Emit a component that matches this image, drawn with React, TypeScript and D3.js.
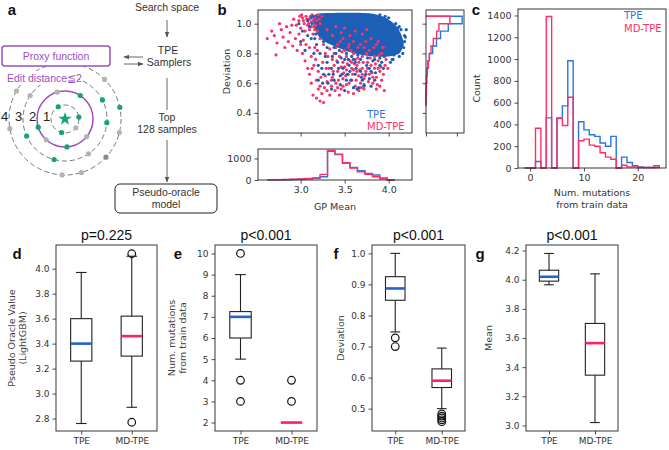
import React, { useEffect, useRef } from 'react';
import * as d3 from 'd3';

const W = 669;
const H = 450;

const BLUE_PT = '#1b5fb6';
const PINK_PT = '#f7336a';
const BLUE_LN = '#2a76d4';
const PINK_LN = '#ff2e68';
const BLUE_MED = '#1f66c6';
const PINK_MED = '#ff2160';
const PURPLE = '#9b4fc2';
const GREEN = '#16a374';
const GREY_DOT = '#b3b3b3';

const MPL_FONT = "'DejaVu Sans', sans-serif";
const ARIAL = "'Liberation Sans', Arial, sans-serif";

// ---------- a: search diagram ----------
const ringRadii = [14, 28, 42, 56];
const ringLabels = ['1', '2', '3', '4'];
// [ring, angle in degrees, kind]  g = green (hit), s = grey, d = dark grey
const ringDots: [number, number, string][] = [
  [1, -119, 'g'], [1, -8, 'g'], [1, 104, 'g'], [1, 39, 's'],
  [2, -106, 's'], [2, -57, 'g'], [2, 163, 'g'], [2, 86, 'g'], [2, 39, 's'], [2, 132, 's'],
  [3, -146, 's'], [3, -27, 'g'], [3, 5, 'g'], [3, 156, 'g'], [3, 105, 'g'], [3, 56, 's'],
  [4, -45, 's'], [4, -12, 'g'], [4, 14, 's'], [4, 43, 'd'], [4, 73, 's'], [4, 93, 's'], [4, 170, 's'], [4, -150, 's'],
];

// ---------- b: GP mean vs deviation ----------
// outline of the saturated TPE cloud
const tpeCore = [
  [3.14, 1.04], [3.18, 1.065], [3.30, 1.072], [3.55, 1.074], [3.78, 1.07], [3.95, 1.045],
  [4.07, 0.995], [4.14, 0.93], [4.17, 0.86], [4.12, 0.80], [4.00, 0.78], [3.85, 0.78],
  [3.70, 0.79], [3.55, 0.81], [3.42, 0.84], [3.30, 0.87], [3.21, 0.91], [3.16, 0.97],
];
const tpePoints = [
  [3.20, 0.62], [3.25, 0.60], [3.32, 0.66], [3.38, 0.62], [3.45, 0.65], [3.52, 0.62], [3.60, 0.57],
  [3.66, 0.57], [3.72, 0.59], [3.78, 0.63], [3.85, 0.67], [3.90, 0.72], [3.95, 0.78], [4.00, 0.80],
  [4.05, 0.76], [4.10, 0.82], [3.30, 0.74], [3.35, 0.70], [3.42, 0.74], [3.48, 0.70], [3.55, 0.72],
  [3.62, 0.66], [3.68, 0.68], [3.75, 0.72], [3.82, 0.75], [3.28, 0.78], [3.22, 0.80], [3.18, 0.86],
  [3.12, 0.90], [3.08, 0.92], [3.02, 0.95], [2.98, 1.00], [3.00, 0.88], [3.05, 0.82], [3.15, 0.80],
  [3.40, 0.80], [3.50, 0.76], [3.58, 0.78], [3.65, 0.79], [3.88, 0.83], [3.98, 0.86], [4.18, 0.92],
  [4.20, 0.96], [4.12, 0.98], [4.15, 0.86], [3.24, 0.70], [3.35, 0.56], [3.45, 0.59], [3.56, 0.68],
  [3.70, 0.62], [3.10, 0.98], [3.14, 1.05], [3.08, 1.02], [4.18, 0.88], [4.08, 1.00], [3.96, 1.05],
  [4.17, 0.84], [3.62, 0.74], [3.78, 0.70], [3.44, 0.82], [3.52, 0.80], [3.86, 0.80],
  [3.26, 0.66], [3.31, 0.60], [3.37, 0.66], [3.43, 0.70], [3.47, 0.66], [3.53, 0.66], [3.57, 0.62],
  [3.63, 0.70], [3.69, 0.64], [3.74, 0.66], [3.80, 0.68], [3.84, 0.62], [3.92, 0.74], [3.94, 0.70],
  [4.02, 0.74], [4.06, 0.79], [3.36, 0.78], [3.46, 0.77], [3.54, 0.76], [3.60, 0.76], [3.68, 0.76],
  [3.76, 0.77], [3.84, 0.76], [3.90, 0.77], [3.20, 0.72], [3.16, 0.90], [3.30, 0.84], [3.38, 0.84],
  [3.26, 0.88], [3.72, 0.58], [3.80, 0.58], [3.64, 0.56], [3.50, 0.55], [3.12, 1.04], [3.13, 1.00],
  [3.17, 0.93], [4.14, 0.96], [4.19, 0.91], [4.16, 0.80], [4.12, 0.78], [4.04, 0.76], [4.00, 1.04],
  [3.90, 1.06], [4.10, 0.97],
];
const mdPoints = [
  [3.02, 1.04], [3.06, 1.05], [3.10, 1.03], [3.13, 1.06], [2.98, 1.02], [3.04, 1.00], [3.08, 0.99],
  [3.12, 1.01], [3.16, 1.04], [3.00, 0.97], [2.95, 0.99], [3.10, 0.96], [3.15, 0.98], [3.18, 1.02],
  [3.05, 0.95], [2.92, 1.03], [3.20, 1.06], [3.22, 1.00], [3.14, 0.93], [3.19, 0.95],
  [3.01, 1.06], [3.07, 1.03], [3.11, 1.05], [3.14, 1.02], [3.17, 0.99], [3.09, 1.00], [3.03, 1.02],
  [2.99, 1.05], [3.12, 0.98], [3.16, 0.96], [3.21, 1.03], [3.24, 1.05],
  [2.62, 0.90], [2.70, 0.92], [2.73, 0.87], [2.78, 0.96], [2.80, 0.91], [2.84, 0.98], [2.86, 0.88],
  [2.88, 0.94], [2.91, 0.85], [2.94, 0.90], [2.96, 0.82], [2.98, 0.93], [3.00, 0.86], [2.82, 0.84],
  [2.72, 0.79], [2.90, 0.99], [2.76, 1.00], [2.67, 0.95], [3.03, 0.89], [3.02, 0.80],
  [3.05, 0.75], [3.08, 0.70], [3.10, 0.66], [3.12, 0.78], [3.15, 0.72], [3.18, 0.62], [3.20, 0.68],
  [3.22, 0.58], [3.25, 0.74], [3.28, 0.65], [3.30, 0.55], [3.14, 0.52], [3.18, 0.50], [3.22, 0.48],
  [3.26, 0.47], [3.24, 0.53], [3.30, 0.61], [3.32, 0.70], [3.12, 0.60], [3.28, 0.80], [3.16, 0.84],
  [3.26, 0.86], [3.22, 0.90], [3.35, 0.58], [3.33, 0.52], [3.06, 0.86], [3.10, 0.84], [3.13, 0.70],
  [3.17, 0.76], [3.20, 0.56], [3.23, 0.64], [3.27, 0.57], [3.29, 0.70], [3.31, 0.78], [3.19, 0.82],
  [3.36, 0.64], [3.38, 0.72], [3.40, 0.60], [3.42, 0.68], [3.44, 0.78], [3.46, 0.56], [3.48, 0.63],
  [3.50, 0.71], [3.52, 0.59], [3.54, 0.66], [3.56, 0.75], [3.58, 0.62], [3.60, 0.69], [3.62, 0.58],
  [3.64, 0.72], [3.66, 0.65], [3.68, 0.60], [3.70, 0.70], [3.72, 0.63], [3.40, 0.84], [3.45, 0.88],
  [3.50, 0.82], [3.55, 0.86], [3.60, 0.80], [3.65, 0.84], [3.70, 0.78], [3.38, 0.80], [3.48, 0.74],
  [3.58, 0.70], [3.62, 0.76], [3.52, 0.78], [3.42, 0.57], [3.36, 0.76], [3.66, 0.74], [3.74, 0.68],
  [3.76, 0.74], [3.78, 0.66], [3.80, 0.72], [3.82, 0.60], [3.84, 0.70], [3.86, 0.64], [3.88, 0.75],
  [3.90, 0.68], [3.92, 0.62], [3.95, 0.55], [3.78, 0.82], [3.84, 0.78], [3.92, 0.80], [3.96, 0.72],
  [3.74, 0.88], [3.80, 0.90], [3.56, 0.92], [3.46, 0.94], [3.36, 0.92], [3.30, 0.96], [3.40, 0.98],
  [3.62, 0.95], [3.70, 0.93], [3.88, 0.88], [3.50, 0.97], [3.75, 0.96],
  [3.33, 0.83], [3.37, 0.68], [3.41, 0.75], [3.43, 0.62], [3.47, 0.81], [3.49, 0.67], [3.51, 0.65],
  [3.53, 0.73], [3.55, 0.60], [3.57, 0.82], [3.59, 0.66], [3.61, 0.73], [3.63, 0.62], [3.65, 0.77],
  [3.67, 0.69], [3.69, 0.57], [3.71, 0.74], [3.73, 0.65], [3.75, 0.80], [3.77, 0.61], [3.79, 0.77],
  [3.81, 0.67], [3.83, 0.84], [3.85, 0.73], [3.87, 0.59], [3.89, 0.79], [3.91, 0.71], [3.93, 0.84],
  [3.94, 0.66], [3.97, 0.76], [3.99, 0.70], [3.35, 0.62], [3.39, 0.55], [3.44, 0.52], [3.48, 0.58],
  [3.54, 0.54], [3.60, 0.53], [3.66, 0.55], [3.72, 0.56], [3.86, 0.56], [3.90, 0.58], [3.46, 0.71],
  [3.52, 0.69], [3.58, 0.74], [3.64, 0.68], [3.70, 0.66], [3.76, 0.70], [3.82, 0.64], [3.88, 0.70],
  [3.42, 0.86], [3.48, 0.90], [3.54, 0.84], [3.60, 0.88], [3.68, 0.86], [3.72, 0.84], [3.86, 0.86],
  [3.94, 0.84],
];

// GP mean histogram (bin lower edges, last value closes the final bin)
const gpEdges = [2.625, 2.71, 2.795, 2.88, 2.965, 3.05, 3.135, 3.22, 3.305, 3.39, 3.475, 3.56, 3.645, 3.73, 3.815, 3.90, 3.985, 4.07];
const gpTPE = [5, 10, 15, 25, 35, 50, 80, 150, 1330, 1180, 780, 580, 430, 300, 230, 100, 0];
const gpMD = [8, 15, 20, 35, 45, 70, 100, 260, 1370, 1200, 800, 560, 380, 270, 150, 60, 0];

// Deviation histogram (sideways)
const devEdges = [0.45, 0.5, 0.55, 0.6, 0.65, 0.7, 0.75, 0.8, 0.85, 0.9, 0.95, 1.0, 1.05];
const devTPE = [0, 3, 8, 15, 30, 60, 110, 215, 340, 470, 720, 1170];
const devMD = [3, 5, 15, 25, 40, 75, 108, 161, 237, 344, 419, 774];

// ---------- c: mutations from train data ----------
const mutEdges = [-1, 0, 1, 2, 3, 4, 5, 6, 7, 8, 9, 10, 11, 12, 13, 14, 15, 16, 17, 18, 19, 20, 21, 22, 23, 24];
const mutTPE = [0, 0, 60, 0, 460, 0, 460, 570, 985, 0, 425, 350, 305, 290, 230, 200, 290, 0, 100, 50, 20, 10, 5, 5, 5];
const mutMD = [0, 0, 365, 0, 1390, 0, 455, 390, 650, 0, 250, 265, 210, 200, 140, 100, 80, 0, 25, 10, 10, 5, 5, 5, 20];

// ---------- d-g: box plots [whislo, q1, median, q3, whishi] ----------
const groups = ['TPE', 'MD-TPE'];
const oracleStats = [[2.76, 3.26, 3.40, 3.60, 3.97], [2.89, 3.30, 3.46, 3.62, 4.10]];
const oracleFliers = [[], [4.12, 2.77]];
const mutBoxStats = [[5, 6, 7, 7.25, 9], [2, 2, 2, 2, 2]];
const mutBoxFliers = [[10, 4, 3], [4, 3]];
const devBoxStats = [[0.747, 0.849, 0.887, 0.925, 1.0], [0.50, 0.568, 0.59, 0.628, 0.695]];
const devBoxFliers = [[0.728, 0.70], [0.483, 0.476, 0.47, 0.464, 0.458]];
const meanBoxStats = [[3.965, 3.99, 4.02, 4.065, 4.18], [3.02, 3.345, 3.565, 3.70, 4.04]];
const meanBoxFliers = [[], []];

function styleAxis(sel: any, size = 9.5) {
  sel.select('.domain').remove();
  sel.selectAll('.tick line').attr('stroke', '#222').attr('stroke-width', 0.8);
  sel.selectAll('.tick text')
    .attr('fill', '#333')
    .style('font-size', `${size}px`)
    .style('font-family', MPL_FONT);
}

function frame(g: any, x0: number, y0: number, x1: number, y1: number) {
  g.append('rect')
    .attr('x', x0).attr('y', y0)
    .attr('width', x1 - x0).attr('height', y1 - y0)
    .attr('fill', 'none').attr('stroke', '#222').attr('stroke-width', 0.9);
}

// outline of a step histogram, bins along x
function stepPoints(edges: number[], counts: number[]) {
  const pts: [number, number][] = [[edges[0], 0]];
  counts.forEach((c, i) => {
    pts.push([edges[i], c]);
    pts.push([edges[i + 1], c]);
  });
  pts.push([edges[edges.length - 1], 0]);
  return pts;
}

function label(g: any, x: number, y: number, text: string, opts: any = {}) {
  return g.append('text')
    .attr('x', x).attr('y', y)
    .attr('text-anchor', opts.anchor || 'middle')
    .attr('fill', opts.fill || '#222')
    .attr('font-weight', opts.weight || 'normal')
    .style('font-size', `${opts.size || 10}px`)
    .style('font-family', opts.family || ARIAL)
    .text(text);
}

function drawDiagram(svg: any) {
  const g = svg.append('g');
  const cx = 65;
  const cy = 119;

  const defs = svg.append('defs');
  defs.append('marker')
    .attr('id', 'head')
    .attr('viewBox', '0 0 10 10')
    .attr('refX', 9).attr('refY', 5)
    .attr('markerWidth', 6).attr('markerHeight', 6)
    .attr('orient', 'auto-start-reverse')
    .append('path').attr('d', 'M0,1 L10,5 L0,9 z').attr('fill', '#555');

  const arrow = (x1: number, y1: number, x2: number, y2: number) =>
    g.append('line')
      .attr('x1', x1).attr('y1', y1).attr('x2', x2).attr('y2', y2)
      .attr('stroke', '#666').attr('stroke-width', 1)
      .attr('marker-end', 'url(#head)');

  // rings around the starting sequence
  ringRadii.forEach((r, i) => {
    const solid = i === 1;
    g.append('circle')
      .attr('cx', cx).attr('cy', cy).attr('r', r)
      .attr('fill', 'none')
      .attr('stroke', solid ? PURPLE : '#777')
      .attr('stroke-width', solid ? 1.5 : 1)
      .attr('stroke-dasharray', solid ? null : '5,3');
  });

  g.selectAll('circle.dot')
    .data(ringDots)
    .enter()
    .append('circle')
    .attr('class', 'dot')
    .attr('cx', (d: any) => cx + ringRadii[d[0] - 1] * Math.cos((d[1] * Math.PI) / 180))
    .attr('cy', (d: any) => cy + ringRadii[d[0] - 1] * Math.sin((d[1] * Math.PI) / 180))
    .attr('r', 2.6)
    .attr('fill', (d: any) => (d[2] === 'g' ? GREEN : d[2] === 'd' ? '#8a8a8a' : GREY_DOT));

  g.append('path')
    .attr('transform', `translate(${cx},${cy})`)
    .attr('d', d3.symbol().type(d3.symbolStar).size(55)())
    .attr('fill', GREEN);

  ringRadii.forEach((r, i) => {
    label(g, cx - r - 4.5, cy + 2, ringLabels[i], { size: 13, fill: '#222' });
  });

  // edit distance caption sits over the outer rings
  g.append('rect').attr('x', 5).attr('y', 71).attr('width', 74).attr('height', 14).attr('fill', '#fff');
  label(g, 7, 82, 'Edit distance≦2', { anchor: 'start', size: 10.5, fill: PURPLE });

  g.append('rect')
    .attr('x', 2).attr('y', 46).attr('width', 108).attr('height', 20).attr('rx', 3)
    .attr('fill', '#fff').attr('stroke', PURPLE).attr('stroke-width', 1.5);
  label(g, 56, 60, 'Proxy function', { size: 10.5, fill: PURPLE });

  label(g, 167, 11, 'Search space', { size: 10.5, fill: '#333' });
  arrow(167, 20, 167, 37);
  label(g, 168, 54, 'TPE', { size: 10.5, fill: '#333' });
  label(g, 169, 66, 'Samplers', { size: 10.5, fill: '#333' });
  arrow(143, 57, 124, 57);
  arrow(124, 64, 143, 64);

  g.append('line').attr('x1', 167).attr('y1', 78).attr('x2', 167).attr('y2', 110)
    .attr('stroke', '#666').attr('stroke-width', 1);
  label(g, 167, 121, 'Top', { size: 10.5, fill: '#333' });
  label(g, 167, 133, '128 samples', { size: 10.5, fill: '#333' });
  arrow(167, 140, 167, 182);

  g.append('rect')
    .attr('x', 115).attr('y', 184).attr('width', 102).attr('height', 29).attr('rx', 5)
    .attr('fill', '#fff').attr('stroke', '#222').attr('stroke-width', 1);
  label(g, 166, 196, 'Pseudo-oracle', { size: 10.5, fill: '#333' });
  label(g, 166, 208, 'model', { size: 10.5, fill: '#333' });

  label(g, 12, 15, 'a', { size: 15, weight: 'bold', fill: '#111' });
}

function drawScatterPanel(svg: any) {
  const g = svg.append('g');
  const sx = { left: 258, right: 412, top: 10, bottom: 133 };
  const x = d3.scaleLinear().domain([2.515, 4.265]).range([sx.left, sx.right]);
  const y = d3.scaleLinear().domain([0.265, 1.092]).range([sx.bottom, sx.top]);

  const clip = svg.append('defs').append('clipPath').attr('id', 'scatterClip');
  clip.append('rect').attr('x', sx.left).attr('y', sx.top).attr('width', sx.right - sx.left).attr('height', sx.bottom - sx.top);

  const pts = g.append('g').attr('clip-path', 'url(#scatterClip)');
  pts.append('path')
    .datum(tpeCore)
    .attr('d', d3.line().x((d: any) => x(d[0])).y((d: any) => y(d[1])).curve(d3.curveCardinalClosed.tension(0.2)))
    .attr('fill', BLUE_PT);
  pts.selectAll('circle.md').data(mdPoints).enter().append('circle')
    .attr('class', 'md')
    .attr('cx', (d: any) => x(d[0])).attr('cy', (d: any) => y(d[1])).attr('r', 1.6)
    .attr('fill', PINK_PT);
  pts.selectAll('circle.tpe').data(tpePoints).enter().append('circle')
    .attr('class', 'tpe')
    .attr('cx', (d: any) => x(d[0])).attr('cy', (d: any) => y(d[1])).attr('r', 1.6)
    .attr('fill', BLUE_PT);

  frame(g, sx.left, sx.top, sx.right, sx.bottom);
  g.append('g').attr('transform', `translate(${sx.left},0)`)
    .call(d3.axisLeft(y).tickValues([0.4, 0.6, 0.8, 1.0]).tickFormat(d3.format('.1f')).tickSize(3.5).tickPadding(3))
    .call(styleAxis);
  g.append('g').attr('transform', `translate(0,${sx.bottom})`)
    .call(d3.axisBottom(x).tickValues([3.0, 3.5, 4.0]).tickFormat(() => '').tickSize(3.5))
    .call(styleAxis);

  label(g, 367, 118, 'TPE', { anchor: 'start', size: 10, fill: BLUE_LN, family: MPL_FONT });
  label(g, 367, 130, 'MD-TPE', { anchor: 'start', size: 10, fill: PINK_LN, family: MPL_FONT });

  const yl = label(g, 0, 0, 'Deviation', { size: 9.5, fill: '#333', family: MPL_FONT });
  yl.attr('transform', `translate(230,${(sx.top + sx.bottom) / 2}) rotate(-90)`);

  // GP mean marginal histogram
  const hx = { top: 149, bottom: 180 };
  const hy = d3.scaleLinear().domain([0, 1440]).range([hx.bottom, hx.top]);
  const stepX = d3.line().x((d: any) => x(d[0])).y((d: any) => hy(d[1])).curve(d3.curveLinear);
  g.append('path').datum(stepPoints(gpEdges, gpTPE)).attr('d', stepX)
    .attr('fill', 'none').attr('stroke', BLUE_LN).attr('stroke-width', 1.4);
  g.append('path').datum(stepPoints(gpEdges, gpMD)).attr('d', stepX)
    .attr('fill', 'none').attr('stroke', PINK_LN).attr('stroke-width', 1.4);
  frame(g, sx.left, hx.top, sx.right, hx.bottom);
  g.append('g').attr('transform', `translate(${sx.left},0)`)
    .call(d3.axisLeft(hy).tickValues([0, 1000]).tickFormat(d3.format('d')).tickSize(3.5).tickPadding(3))
    .call(styleAxis);
  g.append('g').attr('transform', `translate(0,${hx.bottom})`)
    .call(d3.axisBottom(x).tickValues([3.0, 3.5, 4.0]).tickFormat(d3.format('.1f')).tickSize(3.5).tickPadding(3))
    .call(styleAxis);
  label(g, (sx.left + sx.right) / 2, 210, 'GP Mean', { size: 9.5, fill: '#333', family: MPL_FONT });

  // deviation marginal histogram
  const vx = { left: 426, right: 464 };
  const vxScale = d3.scaleLinear().domain([0, 1230]).range([vx.left, vx.right]);
  const stepY = d3.line().x((d: any) => vxScale(d[1])).y((d: any) => y(d[0]));
  g.append('path').datum(stepPoints(devEdges, devTPE)).attr('d', stepY)
    .attr('fill', 'none').attr('stroke', BLUE_LN).attr('stroke-width', 1.4);
  g.append('path').datum(stepPoints(devEdges, devMD)).attr('d', stepY)
    .attr('fill', 'none').attr('stroke', PINK_LN).attr('stroke-width', 1.4);
  frame(g, vx.left, sx.top, vx.right, sx.bottom);
  g.append('g').attr('transform', `translate(${vx.left},0)`)
    .call(d3.axisLeft(y).tickValues([0.4, 0.6, 0.8, 1.0]).tickFormat(() => '').tickSize(3.5))
    .call(styleAxis);
  g.append('g').attr('transform', `translate(0,${sx.bottom})`)
    .call(d3.axisBottom(vxScale).tickValues([0, 1000]).tickFormat(() => '').tickSize(3.5))
    .call(styleAxis);

  label(g, 222, 15, 'b', { size: 15, weight: 'bold', fill: '#111' });
}

function drawMutationHist(svg: any) {
  const g = svg.append('g');
  const f = { left: 518, right: 666, top: 9, bottom: 168 };
  const x = d3.scaleLinear().domain([-2.25, 25.25]).range([f.left, f.right]);
  const y = d3.scaleLinear().domain([0, 1459.5]).range([f.bottom, f.top]);
  const step = d3.line().x((d: any) => x(d[0])).y((d: any) => y(d[1]));

  g.append('path').datum(stepPoints(mutEdges, mutTPE)).attr('d', step)
    .attr('fill', 'none').attr('stroke', BLUE_LN).attr('stroke-width', 1.4);
  g.append('path').datum(stepPoints(mutEdges, mutMD)).attr('d', step)
    .attr('fill', 'none').attr('stroke', PINK_LN).attr('stroke-width', 1.4);

  frame(g, f.left, f.top, f.right, f.bottom);
  g.append('g').attr('transform', `translate(${f.left},0)`)
    .call(d3.axisLeft(y).tickValues(d3.range(0, 1401, 200)).tickFormat(d3.format('d')).tickSize(3.5).tickPadding(3))
    .call(styleAxis);
  g.append('g').attr('transform', `translate(0,${f.bottom})`)
    .call(d3.axisBottom(x).tickValues([0, 10, 20]).tickFormat(d3.format('d')).tickSize(3.5).tickPadding(3))
    .call(styleAxis);

  label(g, 624, 19, 'TPE', { anchor: 'start', size: 10, fill: BLUE_LN, family: MPL_FONT });
  label(g, 624, 32, 'MD-TPE', { anchor: 'start', size: 10, fill: PINK_LN, family: MPL_FONT });

  const yl = label(g, 0, 0, 'Count', { size: 9.5, fill: '#333', family: MPL_FONT });
  yl.attr('transform', `translate(480,${(f.top + f.bottom) / 2}) rotate(-90)`);
  label(g, (f.left + f.right) / 2, 196, 'Num. mutations', { size: 9.5, fill: '#333', family: MPL_FONT });
  label(g, (f.left + f.right) / 2, 208, 'from train data', { size: 9.5, fill: '#333', family: MPL_FONT });

  label(g, 476, 15, 'c', { size: 15, weight: 'bold', fill: '#111' });
}

const BOX_TOP = 245;
const BOX_BOTTOM = 431;

function drawBoxPanel(svg: any, cfg: any) {
  const g = svg.append('g');
  const x = d3.scaleLinear().domain([0.5, 2.5]).range([cfg.left, cfg.right]);
  const y = d3.scaleLinear().domain(cfg.domain).range([BOX_BOTTOM, BOX_TOP]);
  const bw = (x(2) - x(1)) * 0.42;
  const medColors = [BLUE_MED, PINK_MED];

  cfg.stats.forEach((s: number[], i: number) => {
    const cx = x(i + 1);
    const [lo, q1, med, q3, hi] = s;
    const seg = (x1: number, y1: number, x2: number, y2: number) =>
      g.append('line').attr('x1', x1).attr('y1', y1).attr('x2', x2).attr('y2', y2)
        .attr('stroke', '#222').attr('stroke-width', 1.1);
    seg(cx, y(q3), cx, y(hi));
    seg(cx, y(q1), cx, y(lo));
    seg(cx - bw / 4, y(hi), cx + bw / 4, y(hi));
    seg(cx - bw / 4, y(lo), cx + bw / 4, y(lo));
    g.append('rect')
      .attr('x', cx - bw / 2).attr('y', y(q3))
      .attr('width', bw).attr('height', Math.max(0, y(q1) - y(q3)))
      .attr('fill', 'none').attr('stroke', '#222').attr('stroke-width', 1.1);
    g.append('line')
      .attr('x1', cx - bw / 2).attr('x2', cx + bw / 2)
      .attr('y1', y(med)).attr('y2', y(med))
      .attr('stroke', medColors[i]).attr('stroke-width', 2.6);
    g.selectAll(null).data(cfg.fliers[i]).enter().append('circle')
      .attr('cx', cx).attr('cy', (d: any) => y(d)).attr('r', 3.8)
      .attr('fill', 'none').attr('stroke', '#111').attr('stroke-width', 1.2);
  });

  frame(g, cfg.left, BOX_TOP, cfg.right, BOX_BOTTOM);
  g.append('g').attr('transform', `translate(${cfg.left},0)`)
    .call(d3.axisLeft(y).tickValues(cfg.ticks).tickFormat(d3.format(cfg.fmt)).tickSize(3.5).tickPadding(3))
    .call((s: any) => styleAxis(s, 9));
  g.append('g').attr('transform', `translate(0,${BOX_BOTTOM})`)
    .call(d3.axisBottom(x).tickValues([1, 2]).tickFormat((d: any) => groups[d - 1]).tickSize(3.5).tickPadding(3))
    .call((s: any) => styleAxis(s, 9));

  label(g, (cfg.left + cfg.right) / 2, 240, cfg.title, { size: 14, fill: '#111' });
  cfg.ylabel.forEach((t: string, i: number) => {
    const lx = cfg.ylabelX + i * 11;
    label(g, 0, 0, t, { size: 9.5, fill: '#444', family: MPL_FONT })
      .attr('transform', `translate(${lx},${(BOX_TOP + BOX_BOTTOM) / 2}) rotate(-90)`);
  });
  label(g, cfg.letterX, 259, cfg.letter, { size: 15, weight: 'bold', fill: '#111' });
}

export default function App() {
  const svgRef = useRef<SVGSVGElement>(null);

  useEffect(() => {
    const svg = d3.select(svgRef.current);
    svg.selectAll('*').remove();
    svg.append('rect').attr('width', W).attr('height', H).attr('fill', '#fff');

    drawDiagram(svg);
    drawScatterPanel(svg);
    drawMutationHist(svg);

    drawBoxPanel(svg, {
      left: 56, right: 157, domain: [2.70, 4.19], ticks: [2.8, 3.0, 3.2, 3.4, 3.6, 3.8, 4.0], fmt: '.1f',
      stats: oracleStats, fliers: oracleFliers, title: 'p=0.225',
      ylabel: ['Pseudo Oracle Value', '(LightGBM)'], ylabelX: 15, letter: 'd', letterX: 17,
    });
    drawBoxPanel(svg, {
      left: 215, right: 317, domain: [1.6, 10.4], ticks: [2, 3, 4, 5, 6, 7, 8, 9, 10], fmt: 'd',
      stats: mutBoxStats, fliers: mutBoxFliers, title: 'p<0.001',
      ylabel: ['Num. mutations', 'from train data'], ylabelX: 175, letter: 'e', letterX: 178,
    });
    drawBoxPanel(svg, {
      left: 372, right: 465, domain: [0.428, 1.027], ticks: [0.5, 0.6, 0.7, 0.8, 0.9, 1.0], fmt: '.1f',
      stats: devBoxStats, fliers: devBoxFliers, title: 'p<0.001',
      ylabel: ['Deviation'], ylabelX: 344, letter: 'f', letterX: 336,
    });
    drawBoxPanel(svg, {
      left: 526, right: 618, domain: [2.962, 4.238], ticks: [3.0, 3.2, 3.4, 3.6, 3.8, 4.0, 4.2], fmt: '.1f',
      stats: meanBoxStats, fliers: meanBoxFliers, title: 'p<0.001',
      ylabel: ['Mean'], ylabelX: 492, letter: 'g', letterX: 480,
    });
  }, []);

  return (
    <svg
      ref={svgRef}
      width={W}
      height={H}
      style={{ position: 'absolute', left: 0, top: 0, display: 'block' }}
    />
  );
}
